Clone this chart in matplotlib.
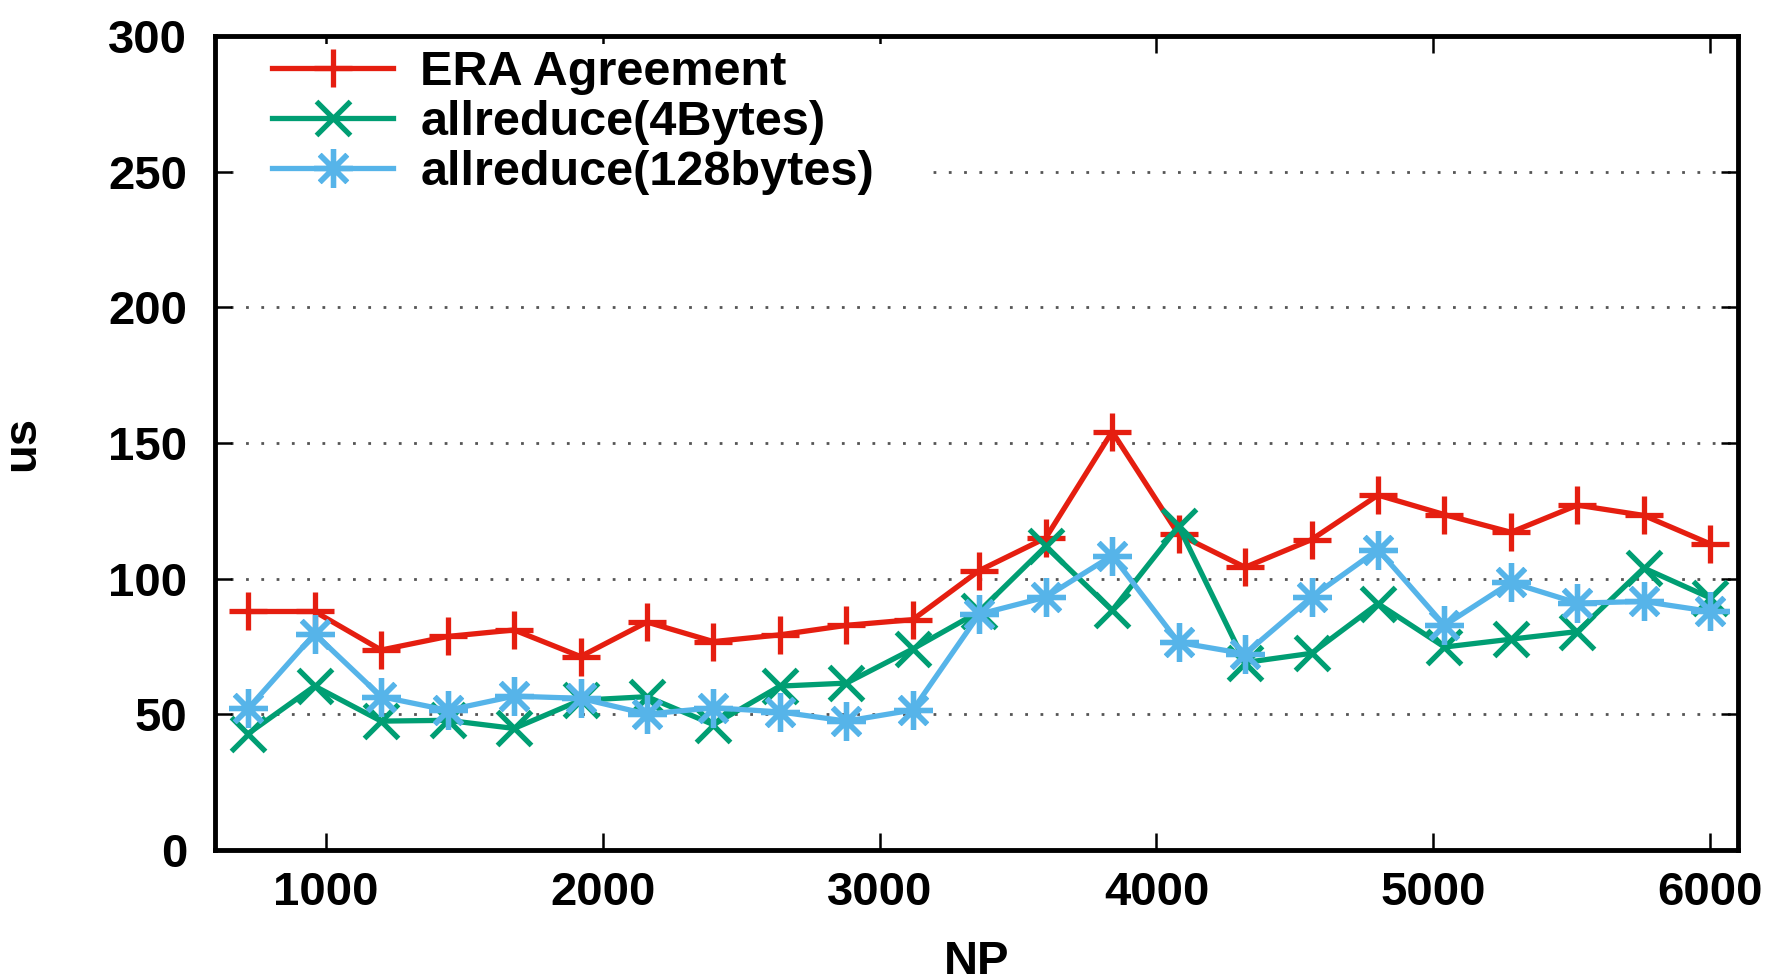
import matplotlib
matplotlib.use("Agg")
import matplotlib.pyplot as plt
from matplotlib.patches import Rectangle

np_values = [720, 960, 1200, 1440, 1680, 1920, 2160, 2400, 2640, 2880, 3120, 3360,
             3600, 3840, 4080, 4320, 4560, 4800, 5040, 5280, 5520, 5760, 6000]
era_agreement = [87.9, 87.9, 73.7, 78.7, 81.1, 71.3, 84.0, 76.8, 79.3, 82.8, 84.9, 103.0,
                 115.0, 154.2, 116.3, 104.2, 114.4, 130.8, 123.6, 117.1, 127.1, 123.3, 112.8]
allreduce_4b = [42.9, 60.4, 47.5, 47.8, 44.8, 55.2, 56.5, 46.2, 60.4, 61.5, 74.1, 87.9,
                111.9, 88.3, 119.3, 69.1, 72.5, 90.8, 74.8, 77.7, 80.5, 103.9, 92.9]
allreduce_128b = [52.2, 79.7, 56.5, 51.5, 56.7, 55.9, 50.1, 52.4, 50.9, 47.5, 51.6, 86.9,
                  93.2, 108.5, 76.5, 72.3, 93.2, 110.7, 82.8, 98.6, 91.0, 91.6, 87.9]
series_labels = ["ERA Agreement", "allreduce(4Bytes)", "allreduce(128bytes)"]
x_ticks = [1000, 2000, 3000, 4000, 5000, 6000]
y_ticks = [0, 50, 100, 150, 200, 250, 300]

plt.rcParams['font.family'] = ['Liberation Sans', 'DejaVu Sans']
plt.rcParams['font.weight'] = 'bold'

fig = plt.figure(figsize=(17.87, 9.8), dpi=100)
ax = fig.add_axes([215/1787, 1-850/980, (1738-215)/1787, (850-36)/980])

lw = 3.8
mew = 3.8
ax.plot(np_values, era_agreement, color='#E51E10', lw=lw, marker='+', ms=28, mew=mew,
        label=series_labels[0], zorder=3)
ax.plot(np_values, allreduce_4b, color='#009E73', lw=lw, marker='x', ms=25, mew=mew,
        label=series_labels[1], zorder=3)
ax.plot(np_values, allreduce_128b, color='#56B4E9', lw=lw, marker=(8, 2, 0), ms=28, mew=mew,
        label=series_labels[2], zorder=3)

ax.set_xlim(600, 6100)
ax.set_ylim(0, 300)
ax.set_xticks(x_ticks)
ax.set_yticks(y_ticks)
ax.tick_params(axis='both', which='major', direction='in', length=12, width=1.8,
               labelsize=34, top=True, right=True)
ax.tick_params(axis='x', pad=15)
ax.tick_params(axis='y', pad=20)
for lab in ax.get_xticklabels() + ax.get_yticklabels():
    lab.set_fontweight('bold')
for s in ax.spines.values():
    s.set_linewidth(3.5)

ax.set_axisbelow(True)
ax.yaxis.grid(True, color='#555555', lw=2.0, linestyle=(0, (1, 4.5)))
ax.xaxis.grid(False)
gl = ax.yaxis.get_gridlines()
gl[0].set_visible(False)
gl[-1].set_visible(False)

ax.add_patch(Rectangle((0.015, 0.78), 0.454, 0.21, transform=ax.transAxes,
                       facecolor='white', edgecolor='none', zorder=1))

ax.set_xlabel('NP', fontsize=34, fontweight='bold')
ax.set_ylabel('us', fontsize=34, fontweight='bold')
ax.xaxis.set_label_coords(0.5, -0.11)
ax.yaxis.set_label_coords(-0.112, 0.5)

leg = ax.legend(loc='upper left', bbox_to_anchor=(0.031, 0.995), frameon=False,
                handlelength=2.5, handletextpad=0.55, labelspacing=0.1,
                borderaxespad=0, borderpad=0.2, prop={'weight': 'bold', 'size': 35})

fig.savefig('out.png', dpi=100)
